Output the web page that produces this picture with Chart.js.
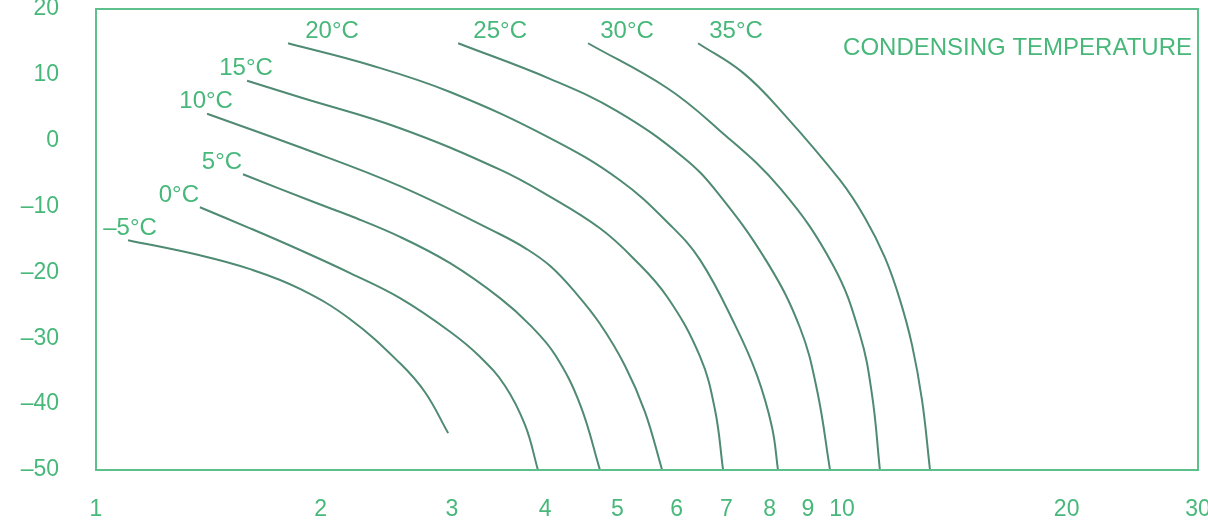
<!DOCTYPE html>
<html>
<head>
<meta charset="utf-8">
<script src="https://cdn.jsdelivr.net/npm/chart.js@4.4.1/dist/chart.umd.min.js"></script>
<style>
  html, body { margin: 0; padding: 0; background: #fff; }
  #wrap { width: 1208px; height: 528px; }
</style>
</head>
<body>
<div id="wrap"><canvas id="condChart" width="1208" height="528"></canvas></div>
<script>
// condensing temperature curves
const curveNames = ['–5°C', '0°C', '5°C', '10°C', '15°C', '20°C', '25°C', '30°C', '35°C'];

const xM5 = [1.104, 1.378, 1.609, 1.877, 2.191, 2.556, 2.761, 2.965];
const yM5 = [-15.1, -17.4, -19.5, -22.5, -27.1, -33.8, -38.2, -44.4];
const x0 = [1.378, 1.609, 1.877, 2.191, 2.556, 2.983, 3.271, 3.533, 3.760, 3.912];
const y0 = [-10.1, -13.3, -16.6, -20.1, -23.9, -29.0, -32.8, -37.2, -43.2, -50];
const x5 = [1.574, 1.978, 2.191, 2.556, 2.983, 3.480, 3.818, 4.124, 4.457, 4.737];
const y5 = [-5.1, -9.5, -11.4, -14.6, -18.6, -23.9, -28.0, -32.5, -40.1, -50];
const x10 = [1.409, 1.877, 2.556, 3.480, 3.760, 4.060, 4.387, 4.737, 5.119, 5.444, 5.739];
const y10 = [4.1, -1.0, -6.9, -14.2, -16.3, -19.0, -23.0, -27.8, -34.2, -41.2, -50];
const x15 = [1.594, 1.877, 2.556, 3.480, 4.060, 4.737, 5.246, 5.828, 6.452, 6.757, 6.927];
const y15 = [9.1, 6.6, 1.9, -4.4, -8.5, -13.3, -17.8, -23.7, -32.8, -40.9, -50];
const x20 = [1.809, 2.329, 2.983, 4.060, 5.039, 5.883, 6.452, 7.189, 7.690, 8.056, 8.206];
const y20 = [14.8, 11.5, 7.4, 0.4, -6.0, -12.8, -18.1, -28.0, -35.6, -43.5, -50];
const x25 = [3.058, 4.060, 4.993, 6.122, 6.800, 7.932, 8.783, 9.258, 9.636];
const y25 = [14.8, 9.4, 4.5, -2.5, -7.8, -18.4, -28.4, -37.9, -50];
const x30 = [4.566, 5.828, 6.800, 8.258, 9.726, 10.57, 10.97, 11.24];
const y30 = [14.8, 8.0, 1.9, -7.2, -18.9, -29.5, -38.6, -50];
const x35 = [6.412, 7.370, 8.334, 9.938, 10.73, 11.42, 11.96, 12.41, 12.80, 13.12];
const y35 = [14.8, 10.3, 4.2, -6.0, -11.7, -17.8, -24.2, -31.0, -39.4, -50];

const xTicks = [1, 2, 3, 4, 5, 6, 7, 8, 9, 10, 20, 30];
const yTicks = [20, 10, 0, -10, -20, -30, -40, -50];

const xs = [xM5, x0, x5, x10, x15, x20, x25, x30, x35];
const ys = [yM5, y0, y5, y10, y15, y20, y25, y30, y35];

const green = '#47b87a';
const lineCol = '#4f8a72';
const font = 'Liberation Sans, Arial, sans-serif';

const datasets = curveNames.map((name, i) => ({
  label: name,
  data: xs[i].map((x, j) => ({ x: x, y: ys[i][j] })),
  borderColor: lineCol,
  borderWidth: 2,
  pointRadius: 0,
  fill: false,
  tension: 0.4
}));

// curve labels + frame + heading
const labelShift = [2, -21, -21, -1, -1, 44, 42, 39, 38];
const decorPlugin = {
  id: 'decor',
  afterDatasetsDraw(chart) {
    const c = chart.ctx;
    const a = chart.chartArea;
    c.save();
    c.strokeStyle = '#5cbf8c';
    c.lineWidth = 2;
    c.strokeRect(a.left, a.top, a.right - a.left, a.bottom - a.top);

    c.fillStyle = green;
    c.font = '24px ' + font;
    c.textBaseline = 'middle';
    c.textAlign = 'center';
    chart.data.datasets.forEach((ds, i) => {
      const p = chart.getDatasetMeta(i).data[0];
      c.fillText(ds.label, p.x + labelShift[i], p.y - 12);
    });

    c.textAlign = 'right';
    c.fillText('CONDENSING TEMPERATURE', a.right - 6, a.top + 39);
    c.restore();
  }
};

new Chart(document.getElementById('condChart'), {
  type: 'line',
  data: { datasets: datasets },
  options: {
    responsive: false,
    animation: false,
    layout: { padding: { top: 9, right: 10, left: 0, bottom: 0 } },
    plugins: {
      legend: { display: false },
      tooltip: { enabled: false }
    },
    scales: {
      x: {
        type: 'logarithmic',
        min: 1,
        max: 30,
        afterBuildTicks: (s) => { s.ticks = xTicks.map(v => ({ value: v })); },
        afterFit: (s) => { s.height = 58; s.paddingLeft = 0; s.paddingRight = 0; },
        grid: { display: false, drawTicks: false },
        border: { display: false },
        ticks: {
          color: green,
          padding: 26,
          maxRotation: 0,
          autoSkip: false,
          font: { family: font, size: 23 },
          callback: (v) => String(v)
        }
      },
      y: {
        min: -50,
        max: 20,
        afterBuildTicks: (s) => { s.ticks = yTicks.map(v => ({ value: v })); },
        afterFit: (s) => { s.width = 96; s.paddingTop = 0; s.paddingBottom = 0; },
        grid: { display: false, drawTicks: false },
        border: { display: false },
        ticks: {
          color: green,
          padding: 37,
          font: { family: font, size: 23 },
          callback: (v) => v < 0 ? '–' + Math.abs(v) : String(v)
        }
      }
    }
  },
  plugins: [decorPlugin]
});
</script>
</body>
</html>
